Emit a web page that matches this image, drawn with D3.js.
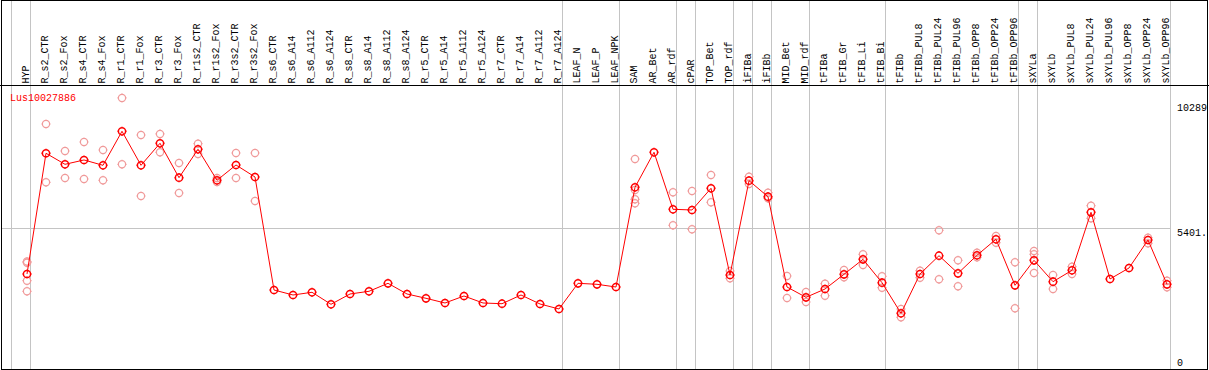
<!DOCTYPE html>
<html>
<head>
<meta charset="utf-8">
<script src="https://cdn.jsdelivr.net/npm/d3@7"></script>
<style>
  html, body { margin: 0; padding: 0; background: #fff; }
  svg { display: block; }
  text { font-family: "Liberation Mono", "DejaVu Sans Mono", monospace; font-size: 10px; }
</style>
</head>
<body>
<script>
const categories = ["HYP","R_s2_CTR","R_s2_Fox","R_s4_CTR","R_s4_Fox","R_r1_CTR","R_r1_Fox","R_r3_CTR","R_r3_Fox","R_r1s2_CTR","R_r1s2_Fox","R_r3s2_CTR","R_r3s2_Fox","R_s6_CTR","R_s6_A14","R_s6_A112","R_s6_A124","R_s8_CTR","R_s8_A14","R_s8_A112","R_s8_A124","R_r5_CTR","R_r5_A14","R_r5_A112","R_r5_A124","R_r7_CTR","R_r7_A14","R_r7_A112","R_r7_A124","LEAF_N","LEAF_P","LEAF_NPK","SAM","AR_Bet","AR_rdf","cPAR","TOP_Bet","TOP_rdf","iFIBa","iFIBb","MID_Bet","MID_rdf","tFIBa","tFIB_Gr","tFIB_Li","tFIB_Bi","tFIBb","tFIBb_PUL8","tFIBb_PUL24","tFIBb_PUL96","tFIBb_OPP8","tFIBb_OPP24","tFIBb_OPP96","sXYLa","sXYLb","sXYLb_PUL8","sXYLb_PUL24","sXYLb_PUL96","sXYLb_OPP8","sXYLb_OPP24","sXYLb_OPP96"];

const means = [3623,8321,7892,8060,7853,9177,7853,8710,7371,8476,7270,7865,7398,3000,2806,2911,2444,2845,2950,3261,2845,2677,2495,2767,2495,2467,2806,2456,2261,3261,3222,3117,6997,8359,6141,6114,6958,3584,7254,6631,3117,2716,3039,3611,4195,3285,2094,3623,4335,3650,4351,4974,3183,4156,3324,3767,6024,3429,3857,4946,3222];

const replicates = [
  [4063,4110,3362,2950],[9461,7192],[8410,7359],[8760,7320],[8449,7270],[10473,7892],[9033,6659],[9072,8359],[7943,6775],[8694,8293],[7359,7204],[8332,7359],[8332,6464],
  [],[],[],[],[],[],[],[],[],[],[],[],[],[],[],[],[],[],[],
  [8099,6892,6530,6375],[],[6803,5518],[6853,5363],[7476,6414],[3740,3456],[7410,7126],[6787,6569],[3545,2689],[2923,2533],[3246,2779],[3779,3495],[4390,3973],[3534,3090],[2261,1938],[3752,3479],[5324,3417],[4156,3144],[4452,4273],[5102,4841],[4078,2288],[4518,4390,3662],[3584,3039],[3907,3623],[6281,5791],[],[],[5036,4818],[3362,3106]
];

// separators drawn after these categories (null = before the first one)
const groupBreaks = [null,"HYP","R_r7_A124","LEAF_NPK","AR_rdf","cPAR","TOP_rdf","iFIBa","iFIBb","MID_rdf","tFIB_Bi","tFIBb_OPP96","sXYLa","sXYLb_OPP96"];

const yTickValues = [10289, 5401.5, 0];
const yTickLabels = ["10289", "5401.", "0"];
const geneName = "Lus10027886";

const W = 1209, H = 370;
const svg = d3.select("body").append("svg").attr("width", W).attr("height", H);

const x = d3.scalePoint().domain(categories).range([27, 27 + 19 * (categories.length - 1)]);
const step = x.step();
const y = d3.scaleLinear().domain([0, 10289]).range([367.1, 102.7]);

const grey = "#c4c4c4";
const crisp = v => Math.floor(v) + 0.5;

// group separators
svg.append("g").selectAll("line").data(groupBreaks).join("line")
  .attr("x1", d => crisp((d === null ? x(categories[0]) - step : x(d)) + 3.7))
  .attr("x2", d => crisp((d === null ? x(categories[0]) - step : x(d)) + 3.7))
  .attr("y1", 0).attr("y2", 369)
  .attr("stroke", grey).attr("stroke-width", 1).attr("shape-rendering", "crispEdges");

// horizontal grid line at middle tick
const lastSep = crisp(x(categories[categories.length - 1]) + 3.7);
svg.append("line")
  .attr("x1", 1).attr("x2", lastSep)
  .attr("y1", crisp(y(yTickValues[1]))).attr("y2", crisp(y(yTickValues[1])))
  .attr("stroke", grey).attr("stroke-width", 1).attr("shape-rendering", "crispEdges");

// frame
svg.append("rect").attr("x", 1.5).attr("y", 0.5).attr("width", 1206).attr("height", 368.5)
  .attr("fill", "none").attr("stroke", "#000").attr("stroke-width", 1).attr("shape-rendering", "crispEdges");
svg.append("line").attr("x1", 0).attr("x2", W).attr("y1", 85.5).attr("y2", 85.5)
  .attr("stroke", "#000").attr("stroke-width", 1).attr("shape-rendering", "crispEdges");

// category labels (rotated)
svg.append("g").selectAll("text").data(categories).join("text")
  .attr("transform", d => `translate(${x(d) + 1.5},83.5) rotate(-90)`)
  .attr("text-anchor", "start")
  .attr("fill", "#000")
  .text(d => d);

// y tick labels
svg.append("g").selectAll("text").data(yTickValues).join("text")
  .attr("x", 1177)
  .attr("y", (d, i) => d === 0 ? y(d) - 1.5 : y(d) + 8)
  .attr("fill", "#000")
  .text((d, i) => yTickLabels[i]);

// gene label
svg.append("text").attr("x", 10).attr("y", 101).attr("fill", "#ff0000").text(geneName);

// marker path: circle with four small ticks
function marker(r) {
  const p = d3.path();
  p.moveTo(r, 0); p.arc(0, 0, r, 0, 2 * Math.PI);
  p.moveTo(0, -r); p.lineTo(0, -r - 1);
  p.moveTo(0, r); p.lineTo(0, r + 1);
  p.moveTo(-r, 0); p.lineTo(-r - 1, 0);
  p.moveTo(r, 0); p.lineTo(r + 1, 0);
  return p.toString();
}

// replicates
const repPts = [];
replicates.forEach((arr, i) => arr.forEach(v => repPts.push({ c: categories[i], v })));
svg.append("g").selectAll("path").data(repPts).join("path")
  .attr("transform", d => `translate(${x(d.c)},${y(d.v)})`)
  .attr("d", marker(3.6))
  .attr("fill", "none").attr("stroke", "#f09a9a").attr("stroke-width", 1.2);

// mean line
const meanPts = categories.map((c, i) => ({ c, v: means[i] }));
svg.append("path").datum(meanPts)
  .attr("d", d3.line().x(d => x(d.c)).y(d => y(d.v)))
  .attr("fill", "none").attr("stroke", "#ff0000").attr("stroke-width", 1);

// mean markers
svg.append("g").selectAll("path").data(meanPts).join("path")
  .attr("transform", d => `translate(${x(d.c)},${y(d.v)})`)
  .attr("d", marker(3.6))
  .attr("fill", "none").attr("stroke", "#ff0000").attr("stroke-width", 1.5);
</script>
</body>
</html>
